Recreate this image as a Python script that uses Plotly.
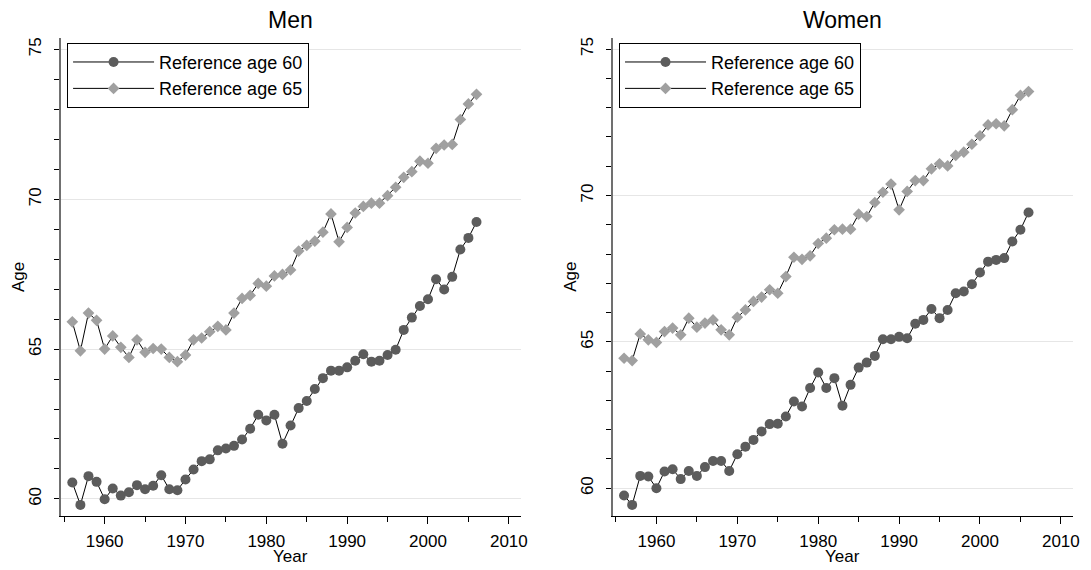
import plotly.graph_objects as go

years = list(range(1956, 2007))

men_age60 = [60.55, 59.80, 60.76, 60.57, 59.99, 60.35, 60.11, 60.22, 60.46, 60.32,
             60.44, 60.79, 60.32, 60.29, 60.65, 60.98, 61.26, 61.32, 61.62, 61.68,
             61.77, 61.98, 62.34, 62.81, 62.62, 62.81, 61.84, 62.45, 63.03, 63.27,
             63.67, 64.03, 64.28, 64.28, 64.39, 64.61, 64.83, 64.58, 64.61, 64.80,
             64.98, 65.64, 66.05, 66.44, 66.66, 67.33, 66.99, 67.41, 68.32, 68.71, 69.24]
men_age65 = [65.91, 64.94, 66.20, 65.96, 65.00, 65.44, 65.06, 64.72, 65.31, 64.89,
             65.02, 65.00, 64.72, 64.58, 64.80, 65.31, 65.37, 65.58, 65.76, 65.64,
             66.20, 66.69, 66.79, 67.19, 67.10, 67.44, 67.49, 67.64, 68.27, 68.46,
             68.60, 68.90, 69.51, 68.58, 69.06, 69.54, 69.76, 69.87, 69.87, 70.12,
             70.40, 70.73, 70.92, 71.27, 71.20, 71.70, 71.81, 71.83, 72.66, 73.18, 73.50]
women_age60 = [59.75, 59.43, 60.42, 60.40, 60.00, 60.57, 60.65, 60.31, 60.59, 60.42,
               60.72, 60.93, 60.93, 60.59, 61.16, 61.42, 61.65, 61.94, 62.19, 62.20,
               62.45, 62.96, 62.79, 63.42, 63.95, 63.42, 63.76, 62.82, 63.53, 64.12,
               64.29, 64.52, 65.09, 65.09, 65.17, 65.12, 65.62, 65.75, 66.12, 65.81,
               66.09, 66.66, 66.72, 66.97, 67.37, 67.74, 67.80, 67.86, 68.43, 68.83, 69.42]
women_age65 = [64.44, 64.36, 65.27, 65.07, 64.98, 65.35, 65.47, 65.24, 65.81, 65.50,
               65.64, 65.75, 65.41, 65.24, 65.84, 66.09, 66.38, 66.53, 66.78, 66.66,
               67.23, 67.89, 67.82, 67.94, 68.36, 68.54, 68.83, 68.85, 68.85, 69.36,
               69.28, 69.76, 70.11, 70.39, 69.51, 70.14, 70.51, 70.51, 70.91, 71.08,
               71.01, 71.37, 71.48, 71.75, 72.04, 72.41, 72.45, 72.38, 72.93, 73.42, 73.55]

panel_titles = ["Men", "Women"]
series_names = ["Reference age 60", "Reference age 65"]
x_ticks = [1960, 1970, 1980, 1990, 2000, 2010]
y_ticks = [60, 65, 70, 75]

FONT = "Liberation Sans, Arial, sans-serif"
DARK = "#5c5c5c"
LIGHT = "#a0a0a0"

fig = go.Figure()

panels = [(men_age60, men_age65, "x", "y", "legend"),
          (women_age60, women_age65, "x2", "y2", "legend2")]
for a60, a65, xa, ya, leg in panels:
    fig.add_trace(go.Scatter(
        x=years, y=a60, xaxis=xa, yaxis=ya, legend=leg,
        mode="lines+markers", name=series_names[0],
        line=dict(color="black", width=1),
        marker=dict(symbol="circle", size=10, color=DARK, line=dict(width=0)),
    ))
    fig.add_trace(go.Scatter(
        x=years, y=a65, xaxis=xa, yaxis=ya, legend=leg,
        mode="lines+markers", name=series_names[1],
        line=dict(color="black", width=1),
        marker=dict(symbol="diamond", size=9, color=LIGHT, line=dict(width=0)),
    ))

xaxis_style = dict(
    range=[1954.6, 2011.5], tickvals=x_ticks, automargin=False,
    ticks="outside", ticklen=7, tickcolor="black", tickwidth=1, ticklabelstandoff=3,
    minor=dict(dtick=5, tick0=1955, ticks="outside", ticklen=5, tickcolor="black"),
    showline=True, linecolor="black", linewidth=1, showgrid=False, zeroline=False,
    tickfont=dict(size=17, color="black"),
)
yaxis_style = dict(
    tickvals=y_ticks, tickangle=-90, automargin=False,
    ticks="outside", ticklen=5, tickcolor="black", tickwidth=1, ticklabelstandoff=6,
    minor=dict(dtick=1, tick0=60, ticks="outside", ticklen=5, tickcolor="black", showgrid=False),
    showline=True, linecolor="#707070", linewidth=2,
    showgrid=True, gridcolor="#e6e6e6", gridwidth=1, zeroline=False,
    tickfont=dict(size=17, color="black"),
)

legend_style = dict(
    bgcolor="white", bordercolor="black", borderwidth=1,
    font=dict(size=18, color="black", family=FONT),
    xanchor="left", yanchor="top", itemwidth=81, tracegroupgap=0,
)

# the page body keeps an 8px margin, so the figure is sized to fit inside it
fig.update_layout(
    width=1083, height=562,
    paper_bgcolor="white", plot_bgcolor="white",
    font=dict(family=FONT, color="black"),
    margin=dict(l=53, r=18, t=30, b=54, autoexpand=False),
    xaxis=dict(domain=[0, 0.4545], anchor="y", **xaxis_style),
    yaxis=dict(domain=[0, 1], anchor="x", range=[59.43, 75.38], **yaxis_style),
    xaxis2=dict(domain=[0.5452, 1], anchor="y2", **xaxis_style),
    yaxis2=dict(domain=[0, 1], anchor="x2", range=[59.05, 75.38], **yaxis_style),
    legend=dict(x=0.006, y=0.99, **legend_style),
    legend2=dict(x=0.5514, y=0.99, **legend_style),
    showlegend=True,
)

for i, t in enumerate(panel_titles):
    xd = "x domain" if i == 0 else "x2 domain"
    yd = "y domain" if i == 0 else "y2 domain"
    fig.add_annotation(
        text=t, xref=xd, yref=yd, x=0.5, y=1, yshift=18,
        xanchor="center", yanchor="middle", showarrow=False,
        font=dict(size=23, color="black", family=FONT),
    )
    fig.add_annotation(
        text="Year", xref=xd, yref=yd, x=0.5, y=0, yshift=-40,
        xanchor="center", yanchor="middle", showarrow=False,
        font=dict(size=17, color="black", family=FONT),
    )
    fig.add_annotation(
        text="Age", xref=xd, yref=yd, x=0, y=0.5, xshift=-43,
        xanchor="center", yanchor="middle", textangle=-90, showarrow=False,
        font=dict(size=17, color="black", family=FONT),
    )

fig.write_html("out.html")
